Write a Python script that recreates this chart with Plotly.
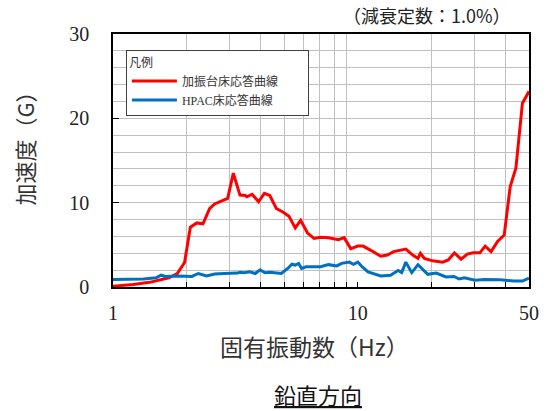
import plotly.graph_objects as go

# Data
red_freq = [1.0, 1.21, 1.41, 1.54, 1.69, 1.83, 1.96, 2.07, 2.20, 2.33, 2.48, 2.60, 2.76, 2.94, 3.10,
            3.30, 3.47, 3.52, 3.70, 3.93, 4.15, 4.37, 4.65, 4.94, 5.23, 5.55, 5.84, 6.23, 6.62, 7.04,
            7.59, 8.33, 8.79, 9.35, 10.0, 10.5, 11.3, 12.4, 13.2, 14.0, 15.7, 16.8, 17.6, 18.0, 18.7,
            20.2, 22.2, 23.4, 24.8, 26.4, 28.0, 29.6, 31.5, 33.1, 35.0, 37.2, 39.6, 41.9, 44.2, 47.0, 50.0]
red_acc = [0.1, 0.3, 0.55, 0.8, 1.1, 1.6, 2.9, 7.1, 7.6, 7.5, 9.3, 9.85, 10.2, 10.5, 13.5,
           10.9, 10.85, 10.7, 11.0, 10.1, 11.1, 10.85, 9.3, 8.9, 8.4, 7.0, 7.9, 6.4, 5.75, 5.9,
           5.85, 5.6, 5.85, 4.55, 4.85, 4.85, 4.35, 3.65, 3.8, 4.2, 4.5, 3.75, 3.4, 4.0, 3.4,
           3.1, 2.95, 3.2, 4.05, 3.3, 3.9, 4.05, 4.05, 4.85, 4.2, 5.4, 6.15, 11.9, 14.1, 21.8, 23.2]

blue_freq = [1.0, 1.21, 1.33, 1.50, 1.57, 1.64, 1.85, 2.10, 2.23, 2.41, 2.60, 2.85, 3.22, 3.30, 3.43,
             3.62, 3.81, 3.99, 4.17, 4.37, 4.65, 4.87, 5.17, 5.38, 5.55, 5.73, 5.89, 6.14, 6.71, 7.04,
             7.59, 8.20, 8.58, 9.23, 9.60, 10.0, 10.4, 11.0, 12.4, 13.6, 14.6, 15.1, 15.7, 16.6, 17.6,
             18.4, 19.3, 20.9, 22.9, 24.7, 25.9, 27.2, 30.1, 32.9, 35.0, 38.2, 43.4, 47.0, 50.0]
blue_acc = [0.88, 0.95, 0.95, 1.1, 1.4, 1.25, 1.3, 1.25, 1.6, 1.3, 1.55, 1.6, 1.65, 1.75, 1.7,
            1.8, 1.6, 2.05, 1.7, 1.75, 1.7, 1.6, 2.2, 2.7, 2.6, 2.8, 2.2, 2.4, 2.4, 2.4,
            2.65, 2.5, 2.8, 2.95, 2.7, 2.95, 2.4, 1.8, 1.3, 1.4, 1.95, 1.7, 2.95, 1.7, 2.65,
            2.1, 1.5, 1.65, 1.2, 1.25, 0.95, 1.1, 0.8, 0.88, 0.88, 0.85, 0.7, 0.7, 1.05]

series_names = ["加振台床応答曲線", "HPAC床応答曲線"]
x_tick_vals = [1, 10, 50]
x_minor_vals = [2, 3, 4, 5, 6, 7, 8, 9, 20, 30, 40]
y_tick_vals = [0, 10, 20, 30]

serif = "Liberation Serif, Times New Roman, Noto Sans CJK JP, serif"
sans = "Noto Sans CJK JP, Noto Sans, sans-serif"
grid_c = "#c0c0c0"

fig = go.Figure()
fig.add_trace(go.Scatter(x=red_freq, y=red_acc, mode="lines",
                         name=series_names[0] + "\u3000\u3000",
                         line=dict(color="#ff0000", width=3)))
fig.add_trace(go.Scatter(x=blue_freq, y=blue_acc, mode="lines", name=series_names[1],
                         line=dict(color="#0070c0", width=3)))

fig.update_layout(
    width=549, height=411,
    margin=dict(l=113, r=10, t=34, b=124, pad=0),
    paper_bgcolor="white", plot_bgcolor="white",
    showlegend=True,
    legend=dict(x=0.031, y=0.937, xanchor="left", yanchor="top",
                bgcolor="white", bordercolor="#404040", borderwidth=1,
                font=dict(family=serif, size=12, color="#333333"),
                title=dict(text="凡例", font=dict(family=serif, size=12, color="#333333")),
                tracegroupgap=0, itemwidth=45),
    xaxis=dict(type="log", range=[0, 1.69897],
               tickvals=x_tick_vals, ticktext=[str(v) for v in x_tick_vals],
               ticks="inside", ticklen=5, tickcolor="black", tickwidth=1,
               showgrid=False, zeroline=False,
               showline=True, linecolor="black", linewidth=1.5, mirror=True,
               tickfont=dict(family=serif, size=20, color="#222222"),
               ticklabelstandoff=7,
               minor=dict(tickvals=x_minor_vals, ticks="inside", ticklen=5, tickcolor="black",
                          showgrid=True, gridcolor=grid_c, gridwidth=1)),
    yaxis=dict(range=[0, 30], tickvals=y_tick_vals,
               ticks="inside", ticklen=6, tickcolor="black", tickwidth=1,
               showgrid=True, gridcolor=grid_c, gridwidth=1, zeroline=False,
               showline=True, linecolor="black", linewidth=1.5, mirror=True,
               tickfont=dict(family=serif, size=20, color="#222222"),
               ticklabelstandoff=18,
               minor=dict(dtick=2, showgrid=True, gridcolor=grid_c, gridwidth=1, ticks="")),
    annotations=[
        dict(text="（減衰定数：1.0%）", xref="paper", yref="paper", x=0.756, y=1.075,
             showarrow=False, xanchor="center", yanchor="middle",
             font=dict(family=sans, size=18, color="#222222")),
        dict(text="加速度（G）", xref="paper", yref="paper", x=-0.215, y=0.569,
             showarrow=False, textangle=-90, xanchor="center", yanchor="middle",
             font=dict(family=sans, size=22, color="#333333")),
        dict(text="固有振動数（Hz）", xref="paper", yref="paper", x=0.484, y=-0.235,
             showarrow=False, xanchor="center", yanchor="middle",
             font=dict(family=sans, size=23, color="#333333")),
        dict(text="<u>鉛直方向</u>", xref="paper", yref="paper", x=0.493, y=-0.421,
             showarrow=False, xanchor="center", yanchor="middle",
             font=dict(family=sans, size=22, color="#111111")),
    ],
)

fig.write_html("out.html", config={"displayModeBar": False},
               post_script="document.body.style.margin='0';document.body.style.overflow='hidden';")
